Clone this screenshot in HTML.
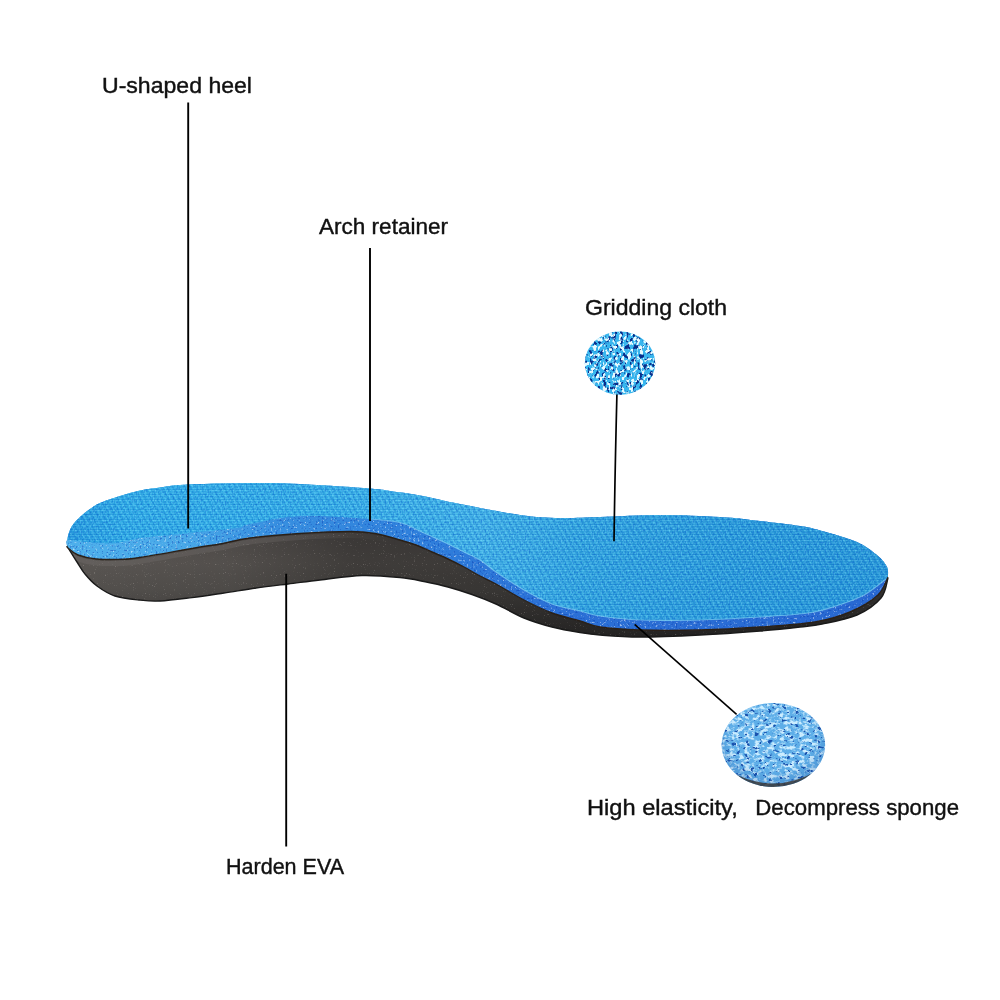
<!DOCTYPE html>
<html><head><meta charset="utf-8">
<style>
html,body{margin:0;padding:0;background:#fff;}
body{width:1000px;height:1000px;overflow:hidden;position:relative;}
svg{position:absolute;left:0;top:0;}
text{font-family:"Liberation Sans",sans-serif;fill:#111;stroke:#111;stroke-width:0.4px;}
.lbl{opacity:0.999;will-change:transform;}
</style></head><body>
<svg width="1000" height="1000" viewBox="0 0 1000 1000">
<defs>
  <pattern id="mesh" width="3" height="2.5" patternUnits="userSpaceOnUse" patternTransform="skewX(-30)">
    <rect x="0" y="0" width="2.2" height="1.1" fill="#8fdcff" opacity="0.35"/>
    <rect x="0" y="1.5" width="3" height="0.9" fill="#0c58c0" opacity="0.25"/>
  </pattern>
  <pattern id="meshx" width="5" height="5" patternUnits="userSpaceOnUse" patternTransform="rotate(62)">
    <rect x="0" y="0" width="5" height="1.6" fill="#0c58c0" opacity="0.2"/>
    <rect x="0" y="2.6" width="5" height="1.4" fill="#b0ecff" opacity="0.16"/>
  </pattern>
  <pattern id="meshy" width="5" height="5" patternUnits="userSpaceOnUse" patternTransform="rotate(-28)">
    <rect x="0" y="0" width="5" height="1.4" fill="#0c58c0" opacity="0.12"/>
  </pattern>
  <filter id="meshnoise" x="0" y="0" width="100%" height="100%" color-interpolation-filters="sRGB">
    <feTurbulence type="fractalNoise" baseFrequency="0.75 0.5" numOctaves="1" seed="2" result="n"/>
    <feColorMatrix in="n" type="matrix" values="0 0 0 0 0.45  0 0 0 0 0.86  0 0 0 0 1  3.5 0 0 0 -1.95" result="light"/>
    <feColorMatrix in="n" type="matrix" values="0 0 0 0 0.04  0 0 0 0 0.36  0 0 0 0 0.82  -3.5 0 0 0 1.75" result="dark"/>
    <feMerge><feMergeNode in="dark"/><feMergeNode in="light"/></feMerge>
    <feComposite in2="SourceAlpha" operator="in"/>
  </filter>
  <linearGradient id="meshg" gradientUnits="userSpaceOnUse" x1="60" y1="0" x2="900" y2="0">
    <stop offset="0" stop-color="#1c9cdc"/>
    <stop offset="0.08" stop-color="#2ab4e8"/>
    <stop offset="0.3" stop-color="#30b6e8"/>
    <stop offset="0.5" stop-color="#40bae8"/>
    <stop offset="0.62" stop-color="#2caade"/>
    <stop offset="0.8" stop-color="#229ed8"/>
    <stop offset="1" stop-color="#1e98d4"/>
  </linearGradient>
  <linearGradient id="foamg" gradientUnits="userSpaceOnUse" x1="60" y1="0" x2="900" y2="0">
    <stop offset="0" stop-color="#4eb0ec"/>
    <stop offset="0.15" stop-color="#48a8e8"/>
    <stop offset="0.25" stop-color="#3890e0"/>
    <stop offset="0.42" stop-color="#2f80dc"/>
    <stop offset="0.6" stop-color="#2b70d6"/>
    <stop offset="1" stop-color="#2868d2"/>
  </linearGradient>
  <linearGradient id="darkg" gradientUnits="userSpaceOnUse" x1="0" y1="530" x2="0" y2="640">
    <stop offset="0" stop-color="#524e4c"/>
    <stop offset="0.3" stop-color="#5a5653"/>
    <stop offset="0.55" stop-color="#53504d"/>
    <stop offset="1" stop-color="#363434"/>
  </linearGradient>
  <linearGradient id="bandg" gradientUnits="userSpaceOnUse" x1="60" y1="0" x2="900" y2="0">
    <stop offset="0" stop-color="#fff" stop-opacity="1"/>
    <stop offset="0.25" stop-color="#fff" stop-opacity="0.8"/>
    <stop offset="0.4" stop-color="#fff" stop-opacity="0"/>
  </linearGradient>
  <mask id="bandm"><rect width="1000" height="1000" fill="url(#bandg)"/></mask>
  <linearGradient id="darkh" gradientUnits="userSpaceOnUse" x1="60" y1="0" x2="900" y2="0">
    <stop offset="0" stop-color="#000" stop-opacity="0"/>
    <stop offset="0.2" stop-color="#000" stop-opacity="0.08"/>
    <stop offset="0.35" stop-color="#000" stop-opacity="0.3"/>
    <stop offset="0.6" stop-color="#000" stop-opacity="0.35"/>
    <stop offset="1" stop-color="#000" stop-opacity="0.4"/>
  </linearGradient>
  <filter id="foamnavy" x="0" y="0" width="100%" height="100%" color-interpolation-filters="sRGB">
    <feTurbulence type="fractalNoise" baseFrequency="0.5" numOctaves="2" seed="17" result="t"/>
    <feColorMatrix in="t" type="matrix" values="0 0 0 0 0.05  0 0 0 0 0.25  0 0 0 0 0.7  -6 0 0 0 2.5" result="w"/>
    <feComposite in="w" in2="SourceAlpha" operator="in"/>
  </filter>
  <filter id="darkspeck" x="0" y="0" width="100%" height="100%" color-interpolation-filters="sRGB">
    <feTurbulence type="fractalNoise" baseFrequency="0.9" numOctaves="1" seed="13" result="t"/>
    <feColorMatrix in="t" type="matrix" values="0 0 0 0 0.75  0 0 0 0 0.72  0 0 0 0 0.7  7 0 0 0 -4.6" result="w"/>
    <feComposite in="w" in2="SourceAlpha" operator="in"/>
  </filter>
  <filter id="speck" x="0" y="0" width="100%" height="100%" color-interpolation-filters="sRGB">
    <feTurbulence type="fractalNoise" baseFrequency="0.45" numOctaves="2" seed="7" result="t"/>
    <feColorMatrix in="t" type="matrix" values="0 0 0 0 1  0 0 0 0 1  0 0 0 0 1  0 0 0 5 -3.1" result="w"/>
    <feComposite in="w" in2="SourceAlpha" operator="in"/>
  </filter>
  <filter id="navy1" x="0" y="0" width="100%" height="100%" color-interpolation-filters="sRGB">
    <feTurbulence type="fractalNoise" baseFrequency="0.3 0.22" numOctaves="2" seed="4" result="t"/>
    <feColorMatrix in="t" type="matrix" values="0 0 0 0 0.03  0 0 0 0 0.18  0 0 0 0 0.55  -10 0 0 0 4.7"/>
  </filter>
  <filter id="white1" x="0" y="0" width="100%" height="100%" color-interpolation-filters="sRGB">
    <feTurbulence type="fractalNoise" baseFrequency="0.32 0.24" numOctaves="2" seed="9" result="t"/>
    <feColorMatrix in="t" type="matrix" values="0 0 0 0 0.9  0 0 0 0 0.98  0 0 0 0 1  10 0 0 0 -5.2"/>
  </filter>
  <filter id="navy2" x="0" y="0" width="100%" height="100%" color-interpolation-filters="sRGB">
    <feTurbulence type="fractalNoise" baseFrequency="0.22 0.3" numOctaves="3" seed="21" result="t"/>
    <feColorMatrix in="t" type="matrix" values="0 0 0 0 0.1  0 0 0 0 0.32  0 0 0 0 0.68  -9 0 0 0 3.5"/>
  </filter>
  <filter id="white2" x="0" y="0" width="100%" height="100%" color-interpolation-filters="sRGB">
    <feTurbulence type="fractalNoise" baseFrequency="0.2 0.28" numOctaves="3" seed="33" result="t"/>
    <feColorMatrix in="t" type="matrix" values="0 0 0 0 0.8  0 0 0 0 0.93  0 0 0 0 1  4.5 0 0 0 -2.0"/>
  </filter>
  <radialGradient id="c2shade" cx="0.5" cy="0.4" r="0.6">
    <stop offset="0.6" stop-color="#1a4a98" stop-opacity="0"/>
    <stop offset="1" stop-color="#1a4a98" stop-opacity="0.35"/>
  </radialGradient>
  <clipPath id="darkclip"><path d="M67.0,546.0 C68.7,548.7 74.0,557.3 77.0,562.0 C80.0,566.7 81.7,570.0 85.0,574.0 C88.3,578.0 92.0,582.3 97.0,586.0 C102.0,589.7 108.0,593.7 115.0,596.0 C122.0,598.3 131.5,599.2 139.0,600.0 C146.5,600.8 151.2,601.4 160.0,601.0 C168.8,600.6 181.3,598.9 192.0,597.6 C202.7,596.3 213.3,594.6 224.0,593.0 C234.7,591.4 245.3,589.5 256.0,588.0 C266.7,586.5 277.3,585.3 288.0,584.0 C298.7,582.7 307.7,581.4 320.0,580.0 C332.3,578.6 348.7,575.9 362.0,575.5 C375.3,575.1 389.7,576.5 400.0,577.5 C410.3,578.5 416.0,579.9 424.0,581.5 C432.0,583.1 440.0,584.8 448.0,587.0 C456.0,589.2 464.0,591.7 472.0,594.5 C480.0,597.3 487.3,600.1 496.0,604.0 C504.7,607.9 514.7,614.2 524.0,618.0 C533.3,621.8 542.7,624.6 552.0,627.0 C561.3,629.4 572.0,631.2 580.0,632.5 C588.0,633.8 590.0,634.2 600.0,635.0 C610.0,635.8 623.3,637.0 640.0,637.0 C656.7,637.0 680.0,636.0 700.0,635.0 C720.0,634.0 743.3,632.3 760.0,631.0 C776.7,629.7 789.7,628.2 800.0,627.0 C810.3,625.8 812.5,626.0 822.0,624.0 C831.5,622.0 847.2,619.3 857.0,615.0 C866.8,610.7 875.8,604.2 881.0,598.0 C886.2,591.8 886.8,581.3 888.0,578.0 L888.0,577.0 C886.3,580.0 884.3,589.2 878.0,595.0 C871.7,600.8 860.5,607.5 850.0,612.0 C839.5,616.5 830.0,619.5 815.0,622.0 C800.0,624.5 779.2,625.7 760.0,627.0 C740.8,628.3 720.0,629.5 700.0,630.0 C680.0,630.5 656.7,630.5 640.0,630.0 C623.3,629.5 610.0,628.5 600.0,627.0 C590.0,625.5 588.0,623.3 580.0,621.0 C572.0,618.7 561.3,616.5 552.0,613.0 C542.7,609.5 533.3,604.8 524.0,600.0 C514.7,595.2 503.3,588.0 496.0,584.0 C488.7,580.0 485.3,578.8 480.0,576.0 C474.7,573.2 469.3,569.8 464.0,567.0 C458.7,564.2 453.3,561.5 448.0,559.0 C442.7,556.5 437.3,554.3 432.0,552.0 C426.7,549.7 421.3,547.0 416.0,545.0 C410.7,543.0 406.8,541.9 400.0,540.0 C393.2,538.1 383.3,534.9 375.0,533.5 C366.7,532.1 362.5,531.5 350.0,531.5 C337.5,531.5 316.7,532.4 300.0,533.5 C283.3,534.6 263.3,536.2 250.0,538.0 C236.7,539.8 228.3,542.5 220.0,544.0 C211.7,545.5 213.3,544.8 200.0,547.0 C186.7,549.2 153.3,555.4 140.0,557.5 C126.7,559.6 127.3,559.1 120.0,559.4 C112.7,559.6 103.0,559.7 96.0,559.0 C89.0,558.3 82.7,556.8 78.0,555.0 C73.3,553.2 69.8,549.5 68.0,548.0 C66.2,546.5 67.2,546.3 67.0,546.0 Z"/></clipPath>
  <clipPath id="c1"><ellipse cx="620" cy="363.2" rx="35.2" ry="31.6"/></clipPath>
  <clipPath id="c2"><ellipse cx="773.4" cy="745" rx="51.7" ry="42"/></clipPath>
</defs>
<rect width="1000" height="1000" fill="#fff"/>

<!-- insole -->
<path d="M67.0,546.0 C68.7,548.7 74.0,557.3 77.0,562.0 C80.0,566.7 81.7,570.0 85.0,574.0 C88.3,578.0 92.0,582.3 97.0,586.0 C102.0,589.7 108.0,593.7 115.0,596.0 C122.0,598.3 131.5,599.2 139.0,600.0 C146.5,600.8 151.2,601.4 160.0,601.0 C168.8,600.6 181.3,598.9 192.0,597.6 C202.7,596.3 213.3,594.6 224.0,593.0 C234.7,591.4 245.3,589.5 256.0,588.0 C266.7,586.5 277.3,585.3 288.0,584.0 C298.7,582.7 307.7,581.4 320.0,580.0 C332.3,578.6 348.7,575.9 362.0,575.5 C375.3,575.1 389.7,576.5 400.0,577.5 C410.3,578.5 416.0,579.9 424.0,581.5 C432.0,583.1 440.0,584.8 448.0,587.0 C456.0,589.2 464.0,591.7 472.0,594.5 C480.0,597.3 487.3,600.1 496.0,604.0 C504.7,607.9 514.7,614.2 524.0,618.0 C533.3,621.8 542.7,624.6 552.0,627.0 C561.3,629.4 572.0,631.2 580.0,632.5 C588.0,633.8 590.0,634.2 600.0,635.0 C610.0,635.8 623.3,637.0 640.0,637.0 C656.7,637.0 680.0,636.0 700.0,635.0 C720.0,634.0 743.3,632.3 760.0,631.0 C776.7,629.7 789.7,628.2 800.0,627.0 C810.3,625.8 812.5,626.0 822.0,624.0 C831.5,622.0 847.2,619.3 857.0,615.0 C866.8,610.7 875.8,604.2 881.0,598.0 C886.2,591.8 886.8,581.3 888.0,578.0 L888.0,577.0 C886.3,580.0 884.3,589.2 878.0,595.0 C871.7,600.8 860.5,607.5 850.0,612.0 C839.5,616.5 830.0,619.5 815.0,622.0 C800.0,624.5 779.2,625.7 760.0,627.0 C740.8,628.3 720.0,629.5 700.0,630.0 C680.0,630.5 656.7,630.5 640.0,630.0 C623.3,629.5 610.0,628.5 600.0,627.0 C590.0,625.5 588.0,623.3 580.0,621.0 C572.0,618.7 561.3,616.5 552.0,613.0 C542.7,609.5 533.3,604.8 524.0,600.0 C514.7,595.2 503.3,588.0 496.0,584.0 C488.7,580.0 485.3,578.8 480.0,576.0 C474.7,573.2 469.3,569.8 464.0,567.0 C458.7,564.2 453.3,561.5 448.0,559.0 C442.7,556.5 437.3,554.3 432.0,552.0 C426.7,549.7 421.3,547.0 416.0,545.0 C410.7,543.0 406.8,541.9 400.0,540.0 C393.2,538.1 383.3,534.9 375.0,533.5 C366.7,532.1 362.5,531.5 350.0,531.5 C337.5,531.5 316.7,532.4 300.0,533.5 C283.3,534.6 263.3,536.2 250.0,538.0 C236.7,539.8 228.3,542.5 220.0,544.0 C211.7,545.5 213.3,544.8 200.0,547.0 C186.7,549.2 153.3,555.4 140.0,557.5 C126.7,559.6 127.3,559.1 120.0,559.4 C112.7,559.6 103.0,559.7 96.0,559.0 C89.0,558.3 82.7,556.8 78.0,555.0 C73.3,553.2 69.8,549.5 68.0,548.0 C66.2,546.5 67.2,546.3 67.0,546.0 Z" fill="url(#darkg)"/>
<path d="M67.0,546.0 C68.7,548.7 74.0,557.3 77.0,562.0 C80.0,566.7 81.7,570.0 85.0,574.0 C88.3,578.0 92.0,582.3 97.0,586.0 C102.0,589.7 108.0,593.7 115.0,596.0 C122.0,598.3 131.5,599.2 139.0,600.0 C146.5,600.8 151.2,601.4 160.0,601.0 C168.8,600.6 181.3,598.9 192.0,597.6 C202.7,596.3 213.3,594.6 224.0,593.0 C234.7,591.4 245.3,589.5 256.0,588.0 C266.7,586.5 277.3,585.3 288.0,584.0 C298.7,582.7 307.7,581.4 320.0,580.0 C332.3,578.6 348.7,575.9 362.0,575.5 C375.3,575.1 389.7,576.5 400.0,577.5 C410.3,578.5 416.0,579.9 424.0,581.5 C432.0,583.1 440.0,584.8 448.0,587.0 C456.0,589.2 464.0,591.7 472.0,594.5 C480.0,597.3 487.3,600.1 496.0,604.0 C504.7,607.9 514.7,614.2 524.0,618.0 C533.3,621.8 542.7,624.6 552.0,627.0 C561.3,629.4 572.0,631.2 580.0,632.5 C588.0,633.8 590.0,634.2 600.0,635.0 C610.0,635.8 623.3,637.0 640.0,637.0 C656.7,637.0 680.0,636.0 700.0,635.0 C720.0,634.0 743.3,632.3 760.0,631.0 C776.7,629.7 789.7,628.2 800.0,627.0 C810.3,625.8 812.5,626.0 822.0,624.0 C831.5,622.0 847.2,619.3 857.0,615.0 C866.8,610.7 875.8,604.2 881.0,598.0 C886.2,591.8 886.8,581.3 888.0,578.0 L888.0,577.0 C886.3,580.0 884.3,589.2 878.0,595.0 C871.7,600.8 860.5,607.5 850.0,612.0 C839.5,616.5 830.0,619.5 815.0,622.0 C800.0,624.5 779.2,625.7 760.0,627.0 C740.8,628.3 720.0,629.5 700.0,630.0 C680.0,630.5 656.7,630.5 640.0,630.0 C623.3,629.5 610.0,628.5 600.0,627.0 C590.0,625.5 588.0,623.3 580.0,621.0 C572.0,618.7 561.3,616.5 552.0,613.0 C542.7,609.5 533.3,604.8 524.0,600.0 C514.7,595.2 503.3,588.0 496.0,584.0 C488.7,580.0 485.3,578.8 480.0,576.0 C474.7,573.2 469.3,569.8 464.0,567.0 C458.7,564.2 453.3,561.5 448.0,559.0 C442.7,556.5 437.3,554.3 432.0,552.0 C426.7,549.7 421.3,547.0 416.0,545.0 C410.7,543.0 406.8,541.9 400.0,540.0 C393.2,538.1 383.3,534.9 375.0,533.5 C366.7,532.1 362.5,531.5 350.0,531.5 C337.5,531.5 316.7,532.4 300.0,533.5 C283.3,534.6 263.3,536.2 250.0,538.0 C236.7,539.8 228.3,542.5 220.0,544.0 C211.7,545.5 213.3,544.8 200.0,547.0 C186.7,549.2 153.3,555.4 140.0,557.5 C126.7,559.6 127.3,559.1 120.0,559.4 C112.7,559.6 103.0,559.7 96.0,559.0 C89.0,558.3 82.7,556.8 78.0,555.0 C73.3,553.2 69.8,549.5 68.0,548.0 C66.2,546.5 67.2,546.3 67.0,546.0 Z" fill="url(#darkh)"/>
<path d="M67.0,546.0 C68.7,548.7 74.0,557.3 77.0,562.0 C80.0,566.7 81.7,570.0 85.0,574.0 C88.3,578.0 92.0,582.3 97.0,586.0 C102.0,589.7 108.0,593.7 115.0,596.0 C122.0,598.3 131.5,599.2 139.0,600.0 C146.5,600.8 151.2,601.4 160.0,601.0 C168.8,600.6 181.3,598.9 192.0,597.6 C202.7,596.3 213.3,594.6 224.0,593.0 C234.7,591.4 245.3,589.5 256.0,588.0 C266.7,586.5 277.3,585.3 288.0,584.0 C298.7,582.7 307.7,581.4 320.0,580.0 C332.3,578.6 348.7,575.9 362.0,575.5 C375.3,575.1 389.7,576.5 400.0,577.5 C410.3,578.5 416.0,579.9 424.0,581.5 C432.0,583.1 440.0,584.8 448.0,587.0 C456.0,589.2 464.0,591.7 472.0,594.5 C480.0,597.3 487.3,600.1 496.0,604.0 C504.7,607.9 514.7,614.2 524.0,618.0 C533.3,621.8 542.7,624.6 552.0,627.0 C561.3,629.4 572.0,631.2 580.0,632.5 C588.0,633.8 590.0,634.2 600.0,635.0 C610.0,635.8 623.3,637.0 640.0,637.0 C656.7,637.0 680.0,636.0 700.0,635.0 C720.0,634.0 743.3,632.3 760.0,631.0 C776.7,629.7 789.7,628.2 800.0,627.0 C810.3,625.8 812.5,626.0 822.0,624.0 C831.5,622.0 847.2,619.3 857.0,615.0 C866.8,610.7 875.8,604.2 881.0,598.0 C886.2,591.8 886.8,581.3 888.0,578.0 L888.0,577.0 C886.3,580.0 884.3,589.2 878.0,595.0 C871.7,600.8 860.5,607.5 850.0,612.0 C839.5,616.5 830.0,619.5 815.0,622.0 C800.0,624.5 779.2,625.7 760.0,627.0 C740.8,628.3 720.0,629.5 700.0,630.0 C680.0,630.5 656.7,630.5 640.0,630.0 C623.3,629.5 610.0,628.5 600.0,627.0 C590.0,625.5 588.0,623.3 580.0,621.0 C572.0,618.7 561.3,616.5 552.0,613.0 C542.7,609.5 533.3,604.8 524.0,600.0 C514.7,595.2 503.3,588.0 496.0,584.0 C488.7,580.0 485.3,578.8 480.0,576.0 C474.7,573.2 469.3,569.8 464.0,567.0 C458.7,564.2 453.3,561.5 448.0,559.0 C442.7,556.5 437.3,554.3 432.0,552.0 C426.7,549.7 421.3,547.0 416.0,545.0 C410.7,543.0 406.8,541.9 400.0,540.0 C393.2,538.1 383.3,534.9 375.0,533.5 C366.7,532.1 362.5,531.5 350.0,531.5 C337.5,531.5 316.7,532.4 300.0,533.5 C283.3,534.6 263.3,536.2 250.0,538.0 C236.7,539.8 228.3,542.5 220.0,544.0 C211.7,545.5 213.3,544.8 200.0,547.0 C186.7,549.2 153.3,555.4 140.0,557.5 C126.7,559.6 127.3,559.1 120.0,559.4 C112.7,559.6 103.0,559.7 96.0,559.0 C89.0,558.3 82.7,556.8 78.0,555.0 C73.3,553.2 69.8,549.5 68.0,548.0 C66.2,546.5 67.2,546.3 67.0,546.0 Z" fill="#fff" filter="url(#darkspeck)" opacity="0.3"/>
<g clip-path="url(#darkclip)" mask="url(#bandm)"><path d="M888.0,577.0 C886.3,580.0 884.3,589.2 878.0,595.0 C871.7,600.8 860.5,607.5 850.0,612.0 C839.5,616.5 830.0,619.5 815.0,622.0 C800.0,624.5 779.2,625.7 760.0,627.0 C740.8,628.3 720.0,629.5 700.0,630.0 C680.0,630.5 656.7,630.5 640.0,630.0 C623.3,629.5 610.0,628.5 600.0,627.0 C590.0,625.5 588.0,623.3 580.0,621.0 C572.0,618.7 561.3,616.5 552.0,613.0 C542.7,609.5 533.3,604.8 524.0,600.0 C514.7,595.2 503.3,588.0 496.0,584.0 C488.7,580.0 485.3,578.8 480.0,576.0 C474.7,573.2 469.3,569.8 464.0,567.0 C458.7,564.2 453.3,561.5 448.0,559.0 C442.7,556.5 437.3,554.3 432.0,552.0 C426.7,549.7 421.3,547.0 416.0,545.0 C410.7,543.0 406.8,541.9 400.0,540.0 C393.2,538.1 383.3,534.9 375.0,533.5 C366.7,532.1 362.5,531.5 350.0,531.5 C337.5,531.5 316.7,532.4 300.0,533.5 C283.3,534.6 263.3,536.2 250.0,538.0 C236.7,539.8 228.3,542.5 220.0,544.0 C211.7,545.5 213.3,544.8 200.0,547.0 C186.7,549.2 153.3,555.4 140.0,557.5 C126.7,559.6 127.3,559.1 120.0,559.4 C112.7,559.6 103.0,559.7 96.0,559.0 C89.0,558.3 82.7,556.8 78.0,555.0 C73.3,553.2 69.8,549.5 68.0,548.0 C66.2,546.5 67.2,546.3 67.0,546.0" transform="translate(0,4)" fill="none" stroke="#6e6a68" stroke-width="5" opacity="0.45"/></g>
<path d="M67.0,546.0 C68.7,548.7 74.0,557.3 77.0,562.0 C80.0,566.7 81.7,570.0 85.0,574.0 C88.3,578.0 92.0,582.3 97.0,586.0 C102.0,589.7 108.0,593.7 115.0,596.0 C122.0,598.3 131.5,599.2 139.0,600.0 C146.5,600.8 151.2,601.4 160.0,601.0 C168.8,600.6 181.3,598.9 192.0,597.6 C202.7,596.3 213.3,594.6 224.0,593.0 C234.7,591.4 245.3,589.5 256.0,588.0 C266.7,586.5 277.3,585.3 288.0,584.0 C298.7,582.7 307.7,581.4 320.0,580.0 C332.3,578.6 348.7,575.9 362.0,575.5 C375.3,575.1 389.7,576.5 400.0,577.5 C410.3,578.5 416.0,579.9 424.0,581.5 C432.0,583.1 440.0,584.8 448.0,587.0 C456.0,589.2 464.0,591.7 472.0,594.5 C480.0,597.3 487.3,600.1 496.0,604.0 C504.7,607.9 514.7,614.2 524.0,618.0 C533.3,621.8 542.7,624.6 552.0,627.0 C561.3,629.4 572.0,631.2 580.0,632.5 C588.0,633.8 590.0,634.2 600.0,635.0 C610.0,635.8 623.3,637.0 640.0,637.0 C656.7,637.0 680.0,636.0 700.0,635.0 C720.0,634.0 743.3,632.3 760.0,631.0 C776.7,629.7 789.7,628.2 800.0,627.0 C810.3,625.8 812.5,626.0 822.0,624.0 C831.5,622.0 847.2,619.3 857.0,615.0 C866.8,610.7 875.8,604.2 881.0,598.0 C886.2,591.8 886.8,581.3 888.0,578.0" fill="none" stroke="#1a1a1a" stroke-width="1.4"/>
<path d="M67.0,546.0 C67.2,544.3 67.2,539.3 68.0,536.0 C68.8,532.7 70.0,529.2 72.0,526.0 C74.0,522.8 77.0,519.8 80.0,517.0 C83.0,514.2 86.7,511.3 90.0,509.0 C93.3,506.7 95.0,505.2 100.0,503.0 C105.0,500.8 113.3,498.1 120.0,496.0 C126.7,493.9 133.3,491.9 140.0,490.5 C146.7,489.1 153.3,488.4 160.0,487.5 C166.7,486.6 170.0,485.7 180.0,485.0 C190.0,484.3 206.7,483.8 220.0,483.5 C233.3,483.2 246.7,482.9 260.0,483.0 C273.3,483.1 281.7,483.1 300.0,484.0 C318.3,484.9 355.0,487.3 370.0,488.5 C385.0,489.7 381.7,489.8 390.0,491.0 C398.3,492.2 408.3,493.3 420.0,495.5 C431.7,497.7 443.3,500.8 460.0,504.0 C476.7,507.2 503.3,512.7 520.0,515.0 C536.7,517.3 546.7,517.7 560.0,518.0 C573.3,518.3 583.3,517.5 600.0,517.0 C616.7,516.5 640.0,515.0 660.0,515.0 C680.0,515.0 703.3,516.0 720.0,517.0 C736.7,518.0 746.7,519.5 760.0,521.0 C773.3,522.5 789.7,524.3 800.0,526.0 C810.3,527.7 812.5,528.3 822.0,531.0 C831.5,533.7 847.7,537.8 857.0,542.0 C866.3,546.2 873.0,551.8 878.0,556.0 C883.0,560.2 885.3,563.7 887.0,567.0 C888.7,570.3 887.8,574.5 888.0,576.0 L888.0,577.0 C886.3,580.0 884.3,589.2 878.0,595.0 C871.7,600.8 860.5,607.5 850.0,612.0 C839.5,616.5 830.0,619.5 815.0,622.0 C800.0,624.5 779.2,625.7 760.0,627.0 C740.8,628.3 720.0,629.5 700.0,630.0 C680.0,630.5 656.7,630.5 640.0,630.0 C623.3,629.5 610.0,628.5 600.0,627.0 C590.0,625.5 588.0,623.3 580.0,621.0 C572.0,618.7 561.3,616.5 552.0,613.0 C542.7,609.5 533.3,604.8 524.0,600.0 C514.7,595.2 503.3,588.0 496.0,584.0 C488.7,580.0 485.3,578.8 480.0,576.0 C474.7,573.2 469.3,569.8 464.0,567.0 C458.7,564.2 453.3,561.5 448.0,559.0 C442.7,556.5 437.3,554.3 432.0,552.0 C426.7,549.7 421.3,547.0 416.0,545.0 C410.7,543.0 406.8,541.9 400.0,540.0 C393.2,538.1 383.3,534.9 375.0,533.5 C366.7,532.1 362.5,531.5 350.0,531.5 C337.5,531.5 316.7,532.4 300.0,533.5 C283.3,534.6 263.3,536.2 250.0,538.0 C236.7,539.8 228.3,542.5 220.0,544.0 C211.7,545.5 213.3,544.8 200.0,547.0 C186.7,549.2 153.3,555.4 140.0,557.5 C126.7,559.6 127.3,559.1 120.0,559.4 C112.7,559.6 103.0,559.7 96.0,559.0 C89.0,558.3 82.7,556.8 78.0,555.0 C73.3,553.2 69.8,549.5 68.0,548.0 C66.2,546.5 67.2,546.3 67.0,546.0 Z" fill="url(#foamg)"/>
<path d="M67.0,546.0 C67.2,544.3 67.2,539.3 68.0,536.0 C68.8,532.7 70.0,529.2 72.0,526.0 C74.0,522.8 77.0,519.8 80.0,517.0 C83.0,514.2 86.7,511.3 90.0,509.0 C93.3,506.7 95.0,505.2 100.0,503.0 C105.0,500.8 113.3,498.1 120.0,496.0 C126.7,493.9 133.3,491.9 140.0,490.5 C146.7,489.1 153.3,488.4 160.0,487.5 C166.7,486.6 170.0,485.7 180.0,485.0 C190.0,484.3 206.7,483.8 220.0,483.5 C233.3,483.2 246.7,482.9 260.0,483.0 C273.3,483.1 281.7,483.1 300.0,484.0 C318.3,484.9 355.0,487.3 370.0,488.5 C385.0,489.7 381.7,489.8 390.0,491.0 C398.3,492.2 408.3,493.3 420.0,495.5 C431.7,497.7 443.3,500.8 460.0,504.0 C476.7,507.2 503.3,512.7 520.0,515.0 C536.7,517.3 546.7,517.7 560.0,518.0 C573.3,518.3 583.3,517.5 600.0,517.0 C616.7,516.5 640.0,515.0 660.0,515.0 C680.0,515.0 703.3,516.0 720.0,517.0 C736.7,518.0 746.7,519.5 760.0,521.0 C773.3,522.5 789.7,524.3 800.0,526.0 C810.3,527.7 812.5,528.3 822.0,531.0 C831.5,533.7 847.7,537.8 857.0,542.0 C866.3,546.2 873.0,551.8 878.0,556.0 C883.0,560.2 885.3,563.7 887.0,567.0 C888.7,570.3 887.8,574.5 888.0,576.0 L888.0,577.0 C886.3,580.0 884.3,589.2 878.0,595.0 C871.7,600.8 860.5,607.5 850.0,612.0 C839.5,616.5 830.0,619.5 815.0,622.0 C800.0,624.5 779.2,625.7 760.0,627.0 C740.8,628.3 720.0,629.5 700.0,630.0 C680.0,630.5 656.7,630.5 640.0,630.0 C623.3,629.5 610.0,628.5 600.0,627.0 C590.0,625.5 588.0,623.3 580.0,621.0 C572.0,618.7 561.3,616.5 552.0,613.0 C542.7,609.5 533.3,604.8 524.0,600.0 C514.7,595.2 503.3,588.0 496.0,584.0 C488.7,580.0 485.3,578.8 480.0,576.0 C474.7,573.2 469.3,569.8 464.0,567.0 C458.7,564.2 453.3,561.5 448.0,559.0 C442.7,556.5 437.3,554.3 432.0,552.0 C426.7,549.7 421.3,547.0 416.0,545.0 C410.7,543.0 406.8,541.9 400.0,540.0 C393.2,538.1 383.3,534.9 375.0,533.5 C366.7,532.1 362.5,531.5 350.0,531.5 C337.5,531.5 316.7,532.4 300.0,533.5 C283.3,534.6 263.3,536.2 250.0,538.0 C236.7,539.8 228.3,542.5 220.0,544.0 C211.7,545.5 213.3,544.8 200.0,547.0 C186.7,549.2 153.3,555.4 140.0,557.5 C126.7,559.6 127.3,559.1 120.0,559.4 C112.7,559.6 103.0,559.7 96.0,559.0 C89.0,558.3 82.7,556.8 78.0,555.0 C73.3,553.2 69.8,549.5 68.0,548.0 C66.2,546.5 67.2,546.3 67.0,546.0 Z" fill="#fff" filter="url(#speck)" opacity="0.55"/>
<path d="M67.0,546.0 C67.2,544.3 67.2,539.3 68.0,536.0 C68.8,532.7 70.0,529.2 72.0,526.0 C74.0,522.8 77.0,519.8 80.0,517.0 C83.0,514.2 86.7,511.3 90.0,509.0 C93.3,506.7 95.0,505.2 100.0,503.0 C105.0,500.8 113.3,498.1 120.0,496.0 C126.7,493.9 133.3,491.9 140.0,490.5 C146.7,489.1 153.3,488.4 160.0,487.5 C166.7,486.6 170.0,485.7 180.0,485.0 C190.0,484.3 206.7,483.8 220.0,483.5 C233.3,483.2 246.7,482.9 260.0,483.0 C273.3,483.1 281.7,483.1 300.0,484.0 C318.3,484.9 355.0,487.3 370.0,488.5 C385.0,489.7 381.7,489.8 390.0,491.0 C398.3,492.2 408.3,493.3 420.0,495.5 C431.7,497.7 443.3,500.8 460.0,504.0 C476.7,507.2 503.3,512.7 520.0,515.0 C536.7,517.3 546.7,517.7 560.0,518.0 C573.3,518.3 583.3,517.5 600.0,517.0 C616.7,516.5 640.0,515.0 660.0,515.0 C680.0,515.0 703.3,516.0 720.0,517.0 C736.7,518.0 746.7,519.5 760.0,521.0 C773.3,522.5 789.7,524.3 800.0,526.0 C810.3,527.7 812.5,528.3 822.0,531.0 C831.5,533.7 847.7,537.8 857.0,542.0 C866.3,546.2 873.0,551.8 878.0,556.0 C883.0,560.2 885.3,563.7 887.0,567.0 C888.7,570.3 887.8,574.5 888.0,576.0 L888.0,577.0 C886.3,580.0 884.3,589.2 878.0,595.0 C871.7,600.8 860.5,607.5 850.0,612.0 C839.5,616.5 830.0,619.5 815.0,622.0 C800.0,624.5 779.2,625.7 760.0,627.0 C740.8,628.3 720.0,629.5 700.0,630.0 C680.0,630.5 656.7,630.5 640.0,630.0 C623.3,629.5 610.0,628.5 600.0,627.0 C590.0,625.5 588.0,623.3 580.0,621.0 C572.0,618.7 561.3,616.5 552.0,613.0 C542.7,609.5 533.3,604.8 524.0,600.0 C514.7,595.2 503.3,588.0 496.0,584.0 C488.7,580.0 485.3,578.8 480.0,576.0 C474.7,573.2 469.3,569.8 464.0,567.0 C458.7,564.2 453.3,561.5 448.0,559.0 C442.7,556.5 437.3,554.3 432.0,552.0 C426.7,549.7 421.3,547.0 416.0,545.0 C410.7,543.0 406.8,541.9 400.0,540.0 C393.2,538.1 383.3,534.9 375.0,533.5 C366.7,532.1 362.5,531.5 350.0,531.5 C337.5,531.5 316.7,532.4 300.0,533.5 C283.3,534.6 263.3,536.2 250.0,538.0 C236.7,539.8 228.3,542.5 220.0,544.0 C211.7,545.5 213.3,544.8 200.0,547.0 C186.7,549.2 153.3,555.4 140.0,557.5 C126.7,559.6 127.3,559.1 120.0,559.4 C112.7,559.6 103.0,559.7 96.0,559.0 C89.0,558.3 82.7,556.8 78.0,555.0 C73.3,553.2 69.8,549.5 68.0,548.0 C66.2,546.5 67.2,546.3 67.0,546.0 Z" fill="#fff" filter="url(#foamnavy)" opacity="0.5"/>
<path d="M888.0,577.0 C886.3,580.0 884.3,589.2 878.0,595.0 C871.7,600.8 860.5,607.5 850.0,612.0 C839.5,616.5 830.0,619.5 815.0,622.0 C800.0,624.5 779.2,625.7 760.0,627.0 C740.8,628.3 720.0,629.5 700.0,630.0 C680.0,630.5 656.7,630.5 640.0,630.0 C623.3,629.5 610.0,628.5 600.0,627.0 C590.0,625.5 588.0,623.3 580.0,621.0 C572.0,618.7 561.3,616.5 552.0,613.0 C542.7,609.5 533.3,604.8 524.0,600.0 C514.7,595.2 503.3,588.0 496.0,584.0 C488.7,580.0 485.3,578.8 480.0,576.0 C474.7,573.2 469.3,569.8 464.0,567.0 C458.7,564.2 453.3,561.5 448.0,559.0 C442.7,556.5 437.3,554.3 432.0,552.0 C426.7,549.7 421.3,547.0 416.0,545.0 C410.7,543.0 406.8,541.9 400.0,540.0 C393.2,538.1 383.3,534.9 375.0,533.5 C366.7,532.1 362.5,531.5 350.0,531.5 C337.5,531.5 316.7,532.4 300.0,533.5 C283.3,534.6 263.3,536.2 250.0,538.0 C236.7,539.8 228.3,542.5 220.0,544.0 C211.7,545.5 213.3,544.8 200.0,547.0 C186.7,549.2 153.3,555.4 140.0,557.5 C126.7,559.6 127.3,559.1 120.0,559.4 C112.7,559.6 103.0,559.7 96.0,559.0 C89.0,558.3 82.7,556.8 78.0,555.0 C73.3,553.2 69.8,549.5 68.0,548.0 C66.2,546.5 67.2,546.3 67.0,546.0" fill="none" stroke="#2a2018" stroke-width="1.4"/>
<path d="M67.0,546.0 C67.2,544.3 67.2,539.3 68.0,536.0 C68.8,532.7 70.0,529.2 72.0,526.0 C74.0,522.8 77.0,519.8 80.0,517.0 C83.0,514.2 86.7,511.3 90.0,509.0 C93.3,506.7 95.0,505.2 100.0,503.0 C105.0,500.8 113.3,498.1 120.0,496.0 C126.7,493.9 133.3,491.9 140.0,490.5 C146.7,489.1 153.3,488.4 160.0,487.5 C166.7,486.6 170.0,485.7 180.0,485.0 C190.0,484.3 206.7,483.8 220.0,483.5 C233.3,483.2 246.7,482.9 260.0,483.0 C273.3,483.1 281.7,483.1 300.0,484.0 C318.3,484.9 355.0,487.3 370.0,488.5 C385.0,489.7 381.7,489.8 390.0,491.0 C398.3,492.2 408.3,493.3 420.0,495.5 C431.7,497.7 443.3,500.8 460.0,504.0 C476.7,507.2 503.3,512.7 520.0,515.0 C536.7,517.3 546.7,517.7 560.0,518.0 C573.3,518.3 583.3,517.5 600.0,517.0 C616.7,516.5 640.0,515.0 660.0,515.0 C680.0,515.0 703.3,516.0 720.0,517.0 C736.7,518.0 746.7,519.5 760.0,521.0 C773.3,522.5 789.7,524.3 800.0,526.0 C810.3,527.7 812.5,528.3 822.0,531.0 C831.5,533.7 847.7,537.8 857.0,542.0 C866.3,546.2 873.0,551.8 878.0,556.0 C883.0,560.2 885.3,563.7 887.0,567.0 C888.7,570.3 887.8,574.5 888.0,576.0 L886.0,579.0 C882.3,581.7 872.3,590.5 864.0,595.0 C855.7,599.5 845.3,603.0 836.0,606.0 C826.7,609.0 820.7,611.2 808.0,613.0 C795.3,614.8 778.0,615.8 760.0,617.0 C742.0,618.2 720.0,619.5 700.0,620.0 C680.0,620.5 656.7,620.7 640.0,620.0 C623.3,619.3 610.0,617.5 600.0,616.0 C590.0,614.5 588.0,613.0 580.0,611.0 C572.0,609.0 561.3,607.5 552.0,604.0 C542.7,600.5 533.3,595.3 524.0,590.0 C514.7,584.7 503.3,577.0 496.0,572.0 C488.7,567.0 485.3,563.3 480.0,560.0 C474.7,556.7 469.3,554.7 464.0,552.0 C458.7,549.3 454.7,547.2 448.0,544.0 C441.3,540.8 432.0,536.6 424.0,533.0 C416.0,529.4 409.0,524.8 400.0,522.5 C391.0,520.2 386.7,520.1 370.0,519.0 C353.3,517.9 320.0,515.2 300.0,516.0 C280.0,516.8 260.7,522.0 250.0,524.0 C239.3,526.0 246.3,526.5 236.0,528.0 C225.7,529.5 204.0,531.3 188.0,533.0 C172.0,534.7 152.2,536.3 140.0,538.0 C127.8,539.7 124.2,542.3 115.0,543.0 C105.8,543.7 92.8,542.5 85.0,542.0 C77.2,541.5 71.0,539.3 68.0,540.0 C65.0,540.7 67.2,545.0 67.0,546.0 Z" fill="url(#meshg)"/>
<path d="M67.0,546.0 C67.2,544.3 67.2,539.3 68.0,536.0 C68.8,532.7 70.0,529.2 72.0,526.0 C74.0,522.8 77.0,519.8 80.0,517.0 C83.0,514.2 86.7,511.3 90.0,509.0 C93.3,506.7 95.0,505.2 100.0,503.0 C105.0,500.8 113.3,498.1 120.0,496.0 C126.7,493.9 133.3,491.9 140.0,490.5 C146.7,489.1 153.3,488.4 160.0,487.5 C166.7,486.6 170.0,485.7 180.0,485.0 C190.0,484.3 206.7,483.8 220.0,483.5 C233.3,483.2 246.7,482.9 260.0,483.0 C273.3,483.1 281.7,483.1 300.0,484.0 C318.3,484.9 355.0,487.3 370.0,488.5 C385.0,489.7 381.7,489.8 390.0,491.0 C398.3,492.2 408.3,493.3 420.0,495.5 C431.7,497.7 443.3,500.8 460.0,504.0 C476.7,507.2 503.3,512.7 520.0,515.0 C536.7,517.3 546.7,517.7 560.0,518.0 C573.3,518.3 583.3,517.5 600.0,517.0 C616.7,516.5 640.0,515.0 660.0,515.0 C680.0,515.0 703.3,516.0 720.0,517.0 C736.7,518.0 746.7,519.5 760.0,521.0 C773.3,522.5 789.7,524.3 800.0,526.0 C810.3,527.7 812.5,528.3 822.0,531.0 C831.5,533.7 847.7,537.8 857.0,542.0 C866.3,546.2 873.0,551.8 878.0,556.0 C883.0,560.2 885.3,563.7 887.0,567.0 C888.7,570.3 887.8,574.5 888.0,576.0 L886.0,579.0 C882.3,581.7 872.3,590.5 864.0,595.0 C855.7,599.5 845.3,603.0 836.0,606.0 C826.7,609.0 820.7,611.2 808.0,613.0 C795.3,614.8 778.0,615.8 760.0,617.0 C742.0,618.2 720.0,619.5 700.0,620.0 C680.0,620.5 656.7,620.7 640.0,620.0 C623.3,619.3 610.0,617.5 600.0,616.0 C590.0,614.5 588.0,613.0 580.0,611.0 C572.0,609.0 561.3,607.5 552.0,604.0 C542.7,600.5 533.3,595.3 524.0,590.0 C514.7,584.7 503.3,577.0 496.0,572.0 C488.7,567.0 485.3,563.3 480.0,560.0 C474.7,556.7 469.3,554.7 464.0,552.0 C458.7,549.3 454.7,547.2 448.0,544.0 C441.3,540.8 432.0,536.6 424.0,533.0 C416.0,529.4 409.0,524.8 400.0,522.5 C391.0,520.2 386.7,520.1 370.0,519.0 C353.3,517.9 320.0,515.2 300.0,516.0 C280.0,516.8 260.7,522.0 250.0,524.0 C239.3,526.0 246.3,526.5 236.0,528.0 C225.7,529.5 204.0,531.3 188.0,533.0 C172.0,534.7 152.2,536.3 140.0,538.0 C127.8,539.7 124.2,542.3 115.0,543.0 C105.8,543.7 92.8,542.5 85.0,542.0 C77.2,541.5 71.0,539.3 68.0,540.0 C65.0,540.7 67.2,545.0 67.0,546.0 Z" fill="url(#mesh)"/>
<path d="M67.0,546.0 C67.2,544.3 67.2,539.3 68.0,536.0 C68.8,532.7 70.0,529.2 72.0,526.0 C74.0,522.8 77.0,519.8 80.0,517.0 C83.0,514.2 86.7,511.3 90.0,509.0 C93.3,506.7 95.0,505.2 100.0,503.0 C105.0,500.8 113.3,498.1 120.0,496.0 C126.7,493.9 133.3,491.9 140.0,490.5 C146.7,489.1 153.3,488.4 160.0,487.5 C166.7,486.6 170.0,485.7 180.0,485.0 C190.0,484.3 206.7,483.8 220.0,483.5 C233.3,483.2 246.7,482.9 260.0,483.0 C273.3,483.1 281.7,483.1 300.0,484.0 C318.3,484.9 355.0,487.3 370.0,488.5 C385.0,489.7 381.7,489.8 390.0,491.0 C398.3,492.2 408.3,493.3 420.0,495.5 C431.7,497.7 443.3,500.8 460.0,504.0 C476.7,507.2 503.3,512.7 520.0,515.0 C536.7,517.3 546.7,517.7 560.0,518.0 C573.3,518.3 583.3,517.5 600.0,517.0 C616.7,516.5 640.0,515.0 660.0,515.0 C680.0,515.0 703.3,516.0 720.0,517.0 C736.7,518.0 746.7,519.5 760.0,521.0 C773.3,522.5 789.7,524.3 800.0,526.0 C810.3,527.7 812.5,528.3 822.0,531.0 C831.5,533.7 847.7,537.8 857.0,542.0 C866.3,546.2 873.0,551.8 878.0,556.0 C883.0,560.2 885.3,563.7 887.0,567.0 C888.7,570.3 887.8,574.5 888.0,576.0 L886.0,579.0 C882.3,581.7 872.3,590.5 864.0,595.0 C855.7,599.5 845.3,603.0 836.0,606.0 C826.7,609.0 820.7,611.2 808.0,613.0 C795.3,614.8 778.0,615.8 760.0,617.0 C742.0,618.2 720.0,619.5 700.0,620.0 C680.0,620.5 656.7,620.7 640.0,620.0 C623.3,619.3 610.0,617.5 600.0,616.0 C590.0,614.5 588.0,613.0 580.0,611.0 C572.0,609.0 561.3,607.5 552.0,604.0 C542.7,600.5 533.3,595.3 524.0,590.0 C514.7,584.7 503.3,577.0 496.0,572.0 C488.7,567.0 485.3,563.3 480.0,560.0 C474.7,556.7 469.3,554.7 464.0,552.0 C458.7,549.3 454.7,547.2 448.0,544.0 C441.3,540.8 432.0,536.6 424.0,533.0 C416.0,529.4 409.0,524.8 400.0,522.5 C391.0,520.2 386.7,520.1 370.0,519.0 C353.3,517.9 320.0,515.2 300.0,516.0 C280.0,516.8 260.7,522.0 250.0,524.0 C239.3,526.0 246.3,526.5 236.0,528.0 C225.7,529.5 204.0,531.3 188.0,533.0 C172.0,534.7 152.2,536.3 140.0,538.0 C127.8,539.7 124.2,542.3 115.0,543.0 C105.8,543.7 92.8,542.5 85.0,542.0 C77.2,541.5 71.0,539.3 68.0,540.0 C65.0,540.7 67.2,545.0 67.0,546.0 Z" fill="url(#meshx)"/>
<path d="M67.0,546.0 C67.2,544.3 67.2,539.3 68.0,536.0 C68.8,532.7 70.0,529.2 72.0,526.0 C74.0,522.8 77.0,519.8 80.0,517.0 C83.0,514.2 86.7,511.3 90.0,509.0 C93.3,506.7 95.0,505.2 100.0,503.0 C105.0,500.8 113.3,498.1 120.0,496.0 C126.7,493.9 133.3,491.9 140.0,490.5 C146.7,489.1 153.3,488.4 160.0,487.5 C166.7,486.6 170.0,485.7 180.0,485.0 C190.0,484.3 206.7,483.8 220.0,483.5 C233.3,483.2 246.7,482.9 260.0,483.0 C273.3,483.1 281.7,483.1 300.0,484.0 C318.3,484.9 355.0,487.3 370.0,488.5 C385.0,489.7 381.7,489.8 390.0,491.0 C398.3,492.2 408.3,493.3 420.0,495.5 C431.7,497.7 443.3,500.8 460.0,504.0 C476.7,507.2 503.3,512.7 520.0,515.0 C536.7,517.3 546.7,517.7 560.0,518.0 C573.3,518.3 583.3,517.5 600.0,517.0 C616.7,516.5 640.0,515.0 660.0,515.0 C680.0,515.0 703.3,516.0 720.0,517.0 C736.7,518.0 746.7,519.5 760.0,521.0 C773.3,522.5 789.7,524.3 800.0,526.0 C810.3,527.7 812.5,528.3 822.0,531.0 C831.5,533.7 847.7,537.8 857.0,542.0 C866.3,546.2 873.0,551.8 878.0,556.0 C883.0,560.2 885.3,563.7 887.0,567.0 C888.7,570.3 887.8,574.5 888.0,576.0 L886.0,579.0 C882.3,581.7 872.3,590.5 864.0,595.0 C855.7,599.5 845.3,603.0 836.0,606.0 C826.7,609.0 820.7,611.2 808.0,613.0 C795.3,614.8 778.0,615.8 760.0,617.0 C742.0,618.2 720.0,619.5 700.0,620.0 C680.0,620.5 656.7,620.7 640.0,620.0 C623.3,619.3 610.0,617.5 600.0,616.0 C590.0,614.5 588.0,613.0 580.0,611.0 C572.0,609.0 561.3,607.5 552.0,604.0 C542.7,600.5 533.3,595.3 524.0,590.0 C514.7,584.7 503.3,577.0 496.0,572.0 C488.7,567.0 485.3,563.3 480.0,560.0 C474.7,556.7 469.3,554.7 464.0,552.0 C458.7,549.3 454.7,547.2 448.0,544.0 C441.3,540.8 432.0,536.6 424.0,533.0 C416.0,529.4 409.0,524.8 400.0,522.5 C391.0,520.2 386.7,520.1 370.0,519.0 C353.3,517.9 320.0,515.2 300.0,516.0 C280.0,516.8 260.7,522.0 250.0,524.0 C239.3,526.0 246.3,526.5 236.0,528.0 C225.7,529.5 204.0,531.3 188.0,533.0 C172.0,534.7 152.2,536.3 140.0,538.0 C127.8,539.7 124.2,542.3 115.0,543.0 C105.8,543.7 92.8,542.5 85.0,542.0 C77.2,541.5 71.0,539.3 68.0,540.0 C65.0,540.7 67.2,545.0 67.0,546.0 Z" fill="url(#meshy)"/>
<path d="M67.0,546.0 C67.2,544.3 67.2,539.3 68.0,536.0 C68.8,532.7 70.0,529.2 72.0,526.0 C74.0,522.8 77.0,519.8 80.0,517.0 C83.0,514.2 86.7,511.3 90.0,509.0 C93.3,506.7 95.0,505.2 100.0,503.0 C105.0,500.8 113.3,498.1 120.0,496.0 C126.7,493.9 133.3,491.9 140.0,490.5 C146.7,489.1 153.3,488.4 160.0,487.5 C166.7,486.6 170.0,485.7 180.0,485.0 C190.0,484.3 206.7,483.8 220.0,483.5 C233.3,483.2 246.7,482.9 260.0,483.0 C273.3,483.1 281.7,483.1 300.0,484.0 C318.3,484.9 355.0,487.3 370.0,488.5 C385.0,489.7 381.7,489.8 390.0,491.0 C398.3,492.2 408.3,493.3 420.0,495.5 C431.7,497.7 443.3,500.8 460.0,504.0 C476.7,507.2 503.3,512.7 520.0,515.0 C536.7,517.3 546.7,517.7 560.0,518.0 C573.3,518.3 583.3,517.5 600.0,517.0 C616.7,516.5 640.0,515.0 660.0,515.0 C680.0,515.0 703.3,516.0 720.0,517.0 C736.7,518.0 746.7,519.5 760.0,521.0 C773.3,522.5 789.7,524.3 800.0,526.0 C810.3,527.7 812.5,528.3 822.0,531.0 C831.5,533.7 847.7,537.8 857.0,542.0 C866.3,546.2 873.0,551.8 878.0,556.0 C883.0,560.2 885.3,563.7 887.0,567.0 C888.7,570.3 887.8,574.5 888.0,576.0 L886.0,579.0 C882.3,581.7 872.3,590.5 864.0,595.0 C855.7,599.5 845.3,603.0 836.0,606.0 C826.7,609.0 820.7,611.2 808.0,613.0 C795.3,614.8 778.0,615.8 760.0,617.0 C742.0,618.2 720.0,619.5 700.0,620.0 C680.0,620.5 656.7,620.7 640.0,620.0 C623.3,619.3 610.0,617.5 600.0,616.0 C590.0,614.5 588.0,613.0 580.0,611.0 C572.0,609.0 561.3,607.5 552.0,604.0 C542.7,600.5 533.3,595.3 524.0,590.0 C514.7,584.7 503.3,577.0 496.0,572.0 C488.7,567.0 485.3,563.3 480.0,560.0 C474.7,556.7 469.3,554.7 464.0,552.0 C458.7,549.3 454.7,547.2 448.0,544.0 C441.3,540.8 432.0,536.6 424.0,533.0 C416.0,529.4 409.0,524.8 400.0,522.5 C391.0,520.2 386.7,520.1 370.0,519.0 C353.3,517.9 320.0,515.2 300.0,516.0 C280.0,516.8 260.7,522.0 250.0,524.0 C239.3,526.0 246.3,526.5 236.0,528.0 C225.7,529.5 204.0,531.3 188.0,533.0 C172.0,534.7 152.2,536.3 140.0,538.0 C127.8,539.7 124.2,542.3 115.0,543.0 C105.8,543.7 92.8,542.5 85.0,542.0 C77.2,541.5 71.0,539.3 68.0,540.0 C65.0,540.7 67.2,545.0 67.0,546.0 Z" fill="#fff" filter="url(#meshnoise)" opacity="0.45"/>
<path d="M886.0,579.0 C882.3,581.7 872.3,590.5 864.0,595.0 C855.7,599.5 845.3,603.0 836.0,606.0 C826.7,609.0 820.7,611.2 808.0,613.0 C795.3,614.8 778.0,615.8 760.0,617.0 C742.0,618.2 720.0,619.5 700.0,620.0 C680.0,620.5 656.7,620.7 640.0,620.0 C623.3,619.3 610.0,617.5 600.0,616.0 C590.0,614.5 588.0,613.0 580.0,611.0 C572.0,609.0 561.3,607.5 552.0,604.0 C542.7,600.5 533.3,595.3 524.0,590.0 C514.7,584.7 503.3,577.0 496.0,572.0 C488.7,567.0 485.3,563.3 480.0,560.0 C474.7,556.7 469.3,554.7 464.0,552.0 C458.7,549.3 454.7,547.2 448.0,544.0 C441.3,540.8 432.0,536.6 424.0,533.0 C416.0,529.4 409.0,524.8 400.0,522.5 C391.0,520.2 375.0,519.6 370.0,519.0" fill="none" stroke="#8ad6f6" stroke-width="1.2" opacity="0.6"/>

<!-- lines -->
<g stroke="#000" fill="none">
  <line x1="188.2" y1="102.5" x2="188.2" y2="528.4" stroke-width="1.9"/>
  <line x1="370" y1="248" x2="370" y2="521" stroke-width="1.9"/>
  <path d="M617,390.8 Q615,470 614,541.3" stroke-width="1.7"/>
  <line x1="286.2" y1="573.8" x2="286.2" y2="846.4" stroke-width="1.9"/>
  <line x1="634.6" y1="624.4" x2="736.6" y2="714.4" stroke-width="1.6"/>
</g>

<!-- circles -->
<g clip-path="url(#c1)">
  <rect x="580" y="325" width="80" height="75" fill="#38b6ee"/>
  <rect x="580" y="325" width="80" height="75" fill="#000" filter="url(#navy1)"/>
  <rect x="580" y="325" width="80" height="75" fill="#000" filter="url(#white1)"/>
</g>
<g clip-path="url(#c2)">
  <rect x="715" y="698" width="115" height="95" fill="#5eaee8"/>
  <rect x="715" y="698" width="115" height="95" fill="#000" filter="url(#white2)"/>
  <rect x="715" y="698" width="115" height="95" fill="#000" filter="url(#navy2)"/>
  <rect x="715" y="698" width="115" height="95" fill="url(#c2shade)"/>
  <path d="M728,770 Q773,797 818,770 L825,800 L722,800 Z" fill="#38383a" opacity="0.85"/>
</g>

<!-- labels -->
<g class="lbl">
<text x="102.00" y="92.50" font-size="21.9" textLength="149.98" lengthAdjust="spacingAndGlyphs">U-shaped heel</text>
<text x="319.00" y="233.90" font-size="21.9" textLength="129.01" lengthAdjust="spacingAndGlyphs">Arch retainer</text>
<text x="585.00" y="315.10" font-size="21.9" textLength="142.05" lengthAdjust="spacingAndGlyphs">Gridding cloth</text>
<text x="587.00" y="815.00" font-size="21.9" textLength="150.70" lengthAdjust="spacingAndGlyphs">High elasticity,</text>
<text x="755.30" y="815.00" font-size="21.9" textLength="203.73" lengthAdjust="spacingAndGlyphs">Decompress sponge</text>
<text x="226.00" y="873.70" font-size="21.9" textLength="118.03" lengthAdjust="spacingAndGlyphs">Harden EVA</text>
</g>
</svg>
</body></html>
